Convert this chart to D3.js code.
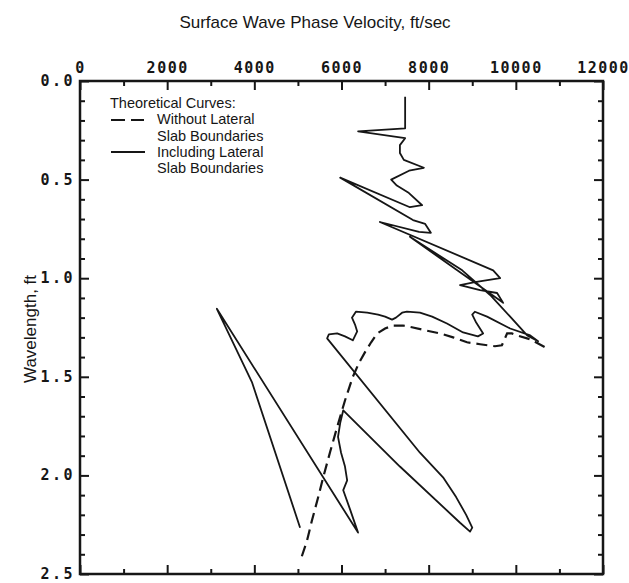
<!DOCTYPE html>
<html>
<head>
<meta charset="utf-8">
<script src="https://cdn.jsdelivr.net/npm/d3@7/dist/d3.min.js"></script>
<style>
  html, body { margin: 0; padding: 0; background: #ffffff; }
  svg { display: block; }
  .tick-label { font-family: "DejaVu Sans Mono", monospace; font-weight: bold; font-size: 15px; fill: #161616; }
  .title { font-family: "Liberation Sans", Arial, sans-serif; font-size: 17px; fill: #161616; }
  .legend { font-family: "Liberation Sans", Arial, sans-serif; font-size: 14.5px; fill: #161616; }
</style>
</head>
<body>
<svg id="chart" width="629" height="583"></svg>
<script>
// Phase velocity (ft/sec) vs wavelength (ft), theoretical dispersion curves

// Velocity axis ticks (top)
const velocityMajorTicks = [0, 2000, 4000, 6000, 8000, 10000, 12000];
const velocityMinorTicks = [1000, 3000, 5000, 7000, 9000, 11000];
// Wavelength axis ticks (left)
const wavelengthMajorTicks = [0.0, 0.5, 1.0, 1.5, 2.0, 2.5];
const wavelengthMinorTicks = [0.1, 0.2, 0.3, 0.4, 0.6, 0.7, 0.8, 0.9, 1.1, 1.2, 1.3, 1.4,
                              1.6, 1.7, 1.8, 1.9, 2.1, 2.2, 2.3, 2.4];

// Without lateral slab boundaries: [velocity, wavelength]
const withoutLateral = [
  [5090, 2.41], [5210, 2.33], [5320, 2.23], [5460, 2.115], [5580, 2.01], [5740, 1.88],
  [5900, 1.755], [6080, 1.62], [6260, 1.50], [6400, 1.43], [6540, 1.375], [6680, 1.325],
  [6820, 1.28], [7000, 1.255], [7180, 1.24], [7410, 1.24], [7640, 1.25], [7940, 1.265],
  [8260, 1.28], [8560, 1.30], [8880, 1.325], [9180, 1.335], [9520, 1.345], [9680, 1.34],
  [9730, 1.315], [9800, 1.28], [9910, 1.28], [10030, 1.29], [10330, 1.31], [10670, 1.35]
];

// Including lateral slab boundaries: [velocity, wavelength]
const includingLateral = [
  [7460, 0.08], [7460, 0.24], [6380, 0.255], [7460, 0.29], [7340, 0.325], [7340, 0.365],
  [7430, 0.40], [7890, 0.44], [7550, 0.455], [7140, 0.50], [7270, 0.53], [7530, 0.565],
  [7850, 0.63], [7570, 0.64], [5970, 0.49], [7640, 0.705], [7920, 0.725], [8050, 0.77],
  [7780, 0.765], [6880, 0.715], [9480, 0.96], [9640, 1.0], [9060, 1.02], [8720, 1.035],
  [9180, 1.06], [9570, 1.075], [9710, 1.125], [7570, 0.79], [8770, 0.96], [9410, 1.085],
  [9870, 1.195], [10260, 1.29], [10510, 1.32],
  [10330, 1.29], [9870, 1.255], [9340, 1.195], [9060, 1.17], [9000, 1.185], [9090, 1.225],
  [9250, 1.28], [9130, 1.295], [8790, 1.275], [8420, 1.23], [8080, 1.195], [7800, 1.175],
  [7500, 1.17], [7390, 1.175], [7250, 1.20], [7160, 1.21], [7000, 1.195], [6840, 1.185],
  [6590, 1.175], [6330, 1.17], [6240, 1.20], [6310, 1.235], [6360, 1.27], [6260, 1.315],
  [6080, 1.295], [5900, 1.28], [5710, 1.285], [5670, 1.305],
  [7800, 1.885], [8330, 2.01], [8630, 2.11], [8860, 2.20], [9000, 2.265], [8950, 2.285],
  [8720, 2.24], [7340, 1.955], [6040, 1.67], [5970, 1.735], [5920, 1.805], [5990, 1.885],
  [6080, 1.955], [6130, 2.025], [6040, 2.075], [6200, 2.175], [6380, 2.29],
  [3140, 1.155], [3950, 1.53], [5050, 2.265]
];

const frame = { left: 80, right: 603, top: 81, bottom: 574 };
const ink = "#161616";

const svg = d3.select("#chart");

const x = d3.scaleLinear().domain([0, 12000]).range([frame.left, frame.right]);
const y = d3.scaleLinear().domain([0, 2.5]).range([frame.top, frame.bottom]);

// Title
svg.append("text")
  .attr("class", "title")
  .attr("x", 315).attr("y", 28)
  .attr("text-anchor", "middle")
  .text("Surface Wave Phase Velocity, ft/sec");

// Axis title
svg.append("text")
  .attr("class", "title")
  .attr("transform", "translate(36," + 329 + ") rotate(-90)")
  .attr("text-anchor", "middle")
  .text("Wavelength, ft");

function styleAxis(g) {
  g.select(".domain").remove();
  g.selectAll(".tick line").attr("stroke", ink).attr("stroke-width", 2);
}

// Top axis: minor + major ticks pointing into the plot, labels above
svg.append("g")
  .attr("transform", `translate(0,${frame.top})`)
  .call(d3.axisTop(x).tickValues(velocityMinorTicks).tickSizeInner(-5).tickSizeOuter(0).tickFormat(""))
  .call(styleAxis);
const topMajor = svg.append("g")
  .attr("transform", `translate(0,${frame.top})`)
  .call(d3.axisTop(x).tickValues(velocityMajorTicks).tickSizeInner(-9).tickSizeOuter(0)
    .tickPadding(8).tickFormat(d3.format("d")))
  .call(styleAxis);
topMajor.selectAll("text").attr("class", "tick-label").attr("fill", null)
  .style("letter-spacing", "1.5px").attr("font-family", null).attr("font-size", null);

// Bottom axis: ticks only
svg.append("g")
  .attr("transform", `translate(0,${frame.bottom})`)
  .call(d3.axisBottom(x).tickValues(velocityMinorTicks).tickSizeInner(-5).tickSizeOuter(0).tickFormat(""))
  .call(styleAxis);
svg.append("g")
  .attr("transform", `translate(0,${frame.bottom})`)
  .call(d3.axisBottom(x).tickValues(velocityMajorTicks).tickSizeInner(-9).tickSizeOuter(0).tickFormat(""))
  .call(styleAxis);

// Left axis: labelled
svg.append("g")
  .attr("transform", `translate(${frame.left},0)`)
  .call(d3.axisLeft(y).tickValues(wavelengthMinorTicks).tickSizeInner(-5).tickSizeOuter(0).tickFormat(""))
  .call(styleAxis);
const leftMajor = svg.append("g")
  .attr("transform", `translate(${frame.left},0)`)
  .call(d3.axisLeft(y).tickValues(wavelengthMajorTicks).tickSizeInner(-9).tickSizeOuter(0)
    .tickPadding(5).tickFormat(d3.format(".1f")))
  .call(styleAxis);
leftMajor.selectAll("text").attr("class", "tick-label").attr("fill", null)
  .style("letter-spacing", "2.5px").attr("font-family", null).attr("font-size", null)
  .attr("dy", "0.3em");

// Right axis: ticks only
svg.append("g")
  .attr("transform", `translate(${frame.right},0)`)
  .call(d3.axisRight(y).tickValues(wavelengthMinorTicks).tickSizeInner(-5).tickSizeOuter(0).tickFormat(""))
  .call(styleAxis);
svg.append("g")
  .attr("transform", `translate(${frame.right},0)`)
  .call(d3.axisRight(y).tickValues(wavelengthMajorTicks).tickSizeInner(-9).tickSizeOuter(0).tickFormat(""))
  .call(styleAxis);

// Plot frame
svg.append("rect")
  .attr("x", frame.left).attr("y", frame.top)
  .attr("width", frame.right - frame.left).attr("height", frame.bottom - frame.top)
  .attr("fill", "none").attr("stroke", ink).attr("stroke-width", 2.5);

// Curves
const line = d3.line().x(d => x(d[0])).y(d => y(d[1]));

svg.append("path")
  .datum(withoutLateral)
  .attr("d", line)
  .attr("fill", "none").attr("stroke", ink).attr("stroke-width", 2.2)
  .attr("stroke-dasharray", "11,6");

svg.append("path")
  .datum(includingLateral)
  .attr("d", line)
  .attr("fill", "none").attr("stroke", ink).attr("stroke-width", 1.8)
  .attr("stroke-linejoin", "round");

// Legend
const legend = svg.append("g");
const legendLines = [
  { t: "Theoretical Curves:", x: 110, y: 108 },
  { t: "Without Lateral", x: 157, y: 124 },
  { t: "Slab Boundaries", x: 157, y: 140.5 },
  { t: "Including Lateral", x: 157, y: 157 },
  { t: "Slab Boundaries", x: 157, y: 173 }
];
legend.selectAll("text").data(legendLines).join("text")
  .attr("class", "legend")
  .attr("x", d => d.x).attr("y", d => d.y)
  .text(d => d.t);
legend.append("line")
  .attr("x1", 111).attr("x2", 144).attr("y1", 120).attr("y2", 120)
  .attr("stroke", ink).attr("stroke-width", 2).attr("stroke-dasharray", "14,6,13");
legend.append("line")
  .attr("x1", 111).attr("x2", 145).attr("y1", 152).attr("y2", 152)
  .attr("stroke", ink).attr("stroke-width", 1.8);
</script>
</body>
</html>
